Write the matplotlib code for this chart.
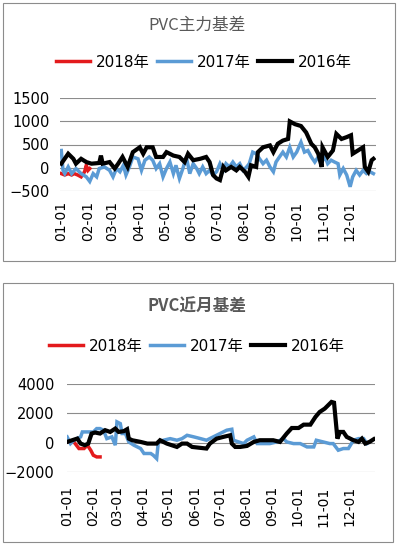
import matplotlib.pyplot as plt
from matplotlib.patches import Rectangle

plt.rcParams['font.family'] = ['DejaVu Sans', 'Noto Sans CJK SC']

month_ticks = [1, 32, 60, 91, 121, 152, 182, 213, 244, 274, 305, 335]
month_labels = ['01-01', '02-01', '03-01', '04-01', '05-01', '06-01',
                '07-01', '08-01', '09-01', '10-01', '11-01', '12-01']

# ---- PVC主力基差 (day of year, basis) ----
main_2016_day = [1, 9, 15, 18, 24, 30, 36, 45, 47, 49, 57, 63, 67, 72, 78, 84, 92, 96, 100,
                 107, 111, 119, 123, 131, 138, 144, 148, 154, 162, 169, 173, 177, 181, 185,
                 189, 192, 198, 204, 208, 214, 218, 221, 227, 229, 235, 243, 247, 252, 258,
                 264, 266, 272, 279, 285, 291, 295, 299, 303, 304, 310, 316, 320, 326, 332,
                 337, 339, 345, 351, 353, 357, 361, 363]
main_2016_val = [85, 300, 190, 85, 190, 120, 85, 100, 260, 85, 120, -20, 85, 230, 15, 335, 440,
                 300, 440, 440, 230, 230, 335, 260, 230, 120, 300, 160, 190, 230, 120, -160,
                 -235, -270, 15, -60, 15, -60, 15, -90, -200, 50, 15, 335, 440, 480, 335, 515,
                 585, 620, 1000, 940, 900, 760, 515, 440, 300, 15, 440, 230, 370, 730, 620,
                 660, 700, 300, 370, 440, 15, -90, 160, 190]

main_2017_day = [1, 3, 5, 9, 13, 18, 24, 30, 34, 38, 42, 45, 51, 57, 61, 65, 69, 73, 76, 80,
                 84, 90, 94, 98, 103, 107, 111, 115, 119, 123, 127, 131, 134, 138, 142, 146,
                 150, 154, 158, 161, 165, 169, 173, 177, 181, 185, 189, 192, 196, 200, 204,
                 208, 212, 216, 219, 223, 227, 231, 235, 239, 243, 247, 250, 254, 258, 262,
                 266, 270, 274, 279, 283, 287, 291, 295, 299, 303, 307, 310, 314, 318, 322,
                 324, 328, 332, 336, 339, 343, 347, 351, 355, 359, 363]
main_2017_val = [370, -60, -130, 15, -130, -20, -130, -200, -300, -130, -200, -20, 15, -60,
                 -200, -20, -90, 50, -160, 15, 230, 190, -60, 160, 230, 160, -20, 85, -200,
                 -20, 120, -130, 50, -235, -20, 230, -130, 85, -20, -130, 15, -130, -60, -160,
                 -90, 85, -60, 85, 15, 120, 15, 85, -60, 15, 85, 335, 300, 190, 85, 160, 15,
                 -90, 120, 230, 335, 230, 440, 230, 335, 550, 335, 370, 230, 120, 230, 120,
                 230, 85, 160, 120, 85, -160, -20, -160, -415, -200, -60, -160, -60, -130,
                 -90, -130]

main_2018_day = [1, 5, 9, 13, 16, 20, 24, 28, 30, 32, 34]
main_2018_val = [-130, -160, -130, -160, -130, -160, -200, -90, 50, -60, -20]

# ---- PVC近月基差 ----
near_2016_day = [1, 7, 13, 17, 22, 26, 30, 34, 40, 46, 52, 58, 62, 68, 72, 74, 78, 88, 96,
                 107, 111, 119, 131, 137, 143, 149, 159, 166, 170, 178, 186, 194, 196, 200,
                 206, 214, 222, 229, 237, 245, 253, 261, 267, 275, 281, 289, 295, 300, 306,
                 310, 314, 317, 321, 324, 328, 332, 340, 346, 350, 354, 359, 364]
near_2016_val = [45, 160, 275, -70, -180, -70, 620, 690, 620, 850, 730, 960, 730, 780, 915,
                 270, 160, 45, -70, -70, 160, -70, -300, -70, -70, -300, -365, -410, -70, 270,
                 390, 500, -70, -300, -300, -230, 45, 160, 160, 160, 45, 620, 1000, 1000,
                 1230, 1230, 1760, 2100, 2330, 2560, 2790, 2740, 270, 730, 730, 390, 160, 45,
                 270, -70, 45, 230]

near_2017_day = [1, 5, 9, 17, 19, 26, 32, 36, 40, 44, 48, 54, 58, 60, 64, 66, 70, 74, 80, 88,
                 92, 100, 103, 107, 109, 115, 123, 131, 137, 143, 151, 159, 166, 174, 182,
                 190, 196, 198, 204, 210, 214, 222, 226, 233, 241, 249, 257, 261, 269, 277,
                 285, 293, 296, 304, 312, 316, 322, 328, 334, 340, 346, 352, 356]
near_2017_val = [390, -70, 160, 390, 730, 730, 730, 960, 960, 850, 270, 390, -180, 1420,
                 1300, 620, 620, 45, -180, -410, -750, -750, -870, -1100, 45, 160, 270, 160,
                 270, 500, 390, 270, 160, 390, 620, 850, 915, 160, 45, -70, 160, 390, -70,
                 -70, -70, 45, 270, 45, -70, -70, -300, -300, 160, 45, -70, -70, -525, -410,
                 -410, 160, 270, 275, -70]

near_2018_day = [1, 9, 15, 21, 25, 29, 32, 36, 40]
near_2018_val = [45, 45, -410, -410, -180, -530, -870, -985, -985]

RED = '#E31A1C'
BLUE = '#5B9BD5'
GRID = '#8C8C8C'
TXT = '#595959'

fig = plt.figure(figsize=(3.97, 5.46), dpi=100)

# chart frames
fig.patches.append(Rectangle((2.5 / 397, 1 - 260.5 / 546), 392.5 / 397, 258 / 546,
                             transform=fig.transFigure, fill=False, ec='#8C8C8C', lw=0.8))
fig.patches.append(Rectangle((2.5 / 397, 1 - 541.5 / 546), 390.5 / 397, 258.5 / 546,
                             transform=fig.transFigure, fill=False, ec='#8C8C8C', lw=0.8))


def draw(ax, series, ylim, yticks, xlim, xpad, ypad):
    for d, v, c, lw in series:
        ax.plot(d, v, color=c, lw=lw, solid_joinstyle='miter')
    ax.set_xlim(*xlim)
    ax.set_ylim(*ylim)
    ax.set_yticks(yticks)
    ax.set_xticks(month_ticks)
    ax.set_xticklabels(month_labels, rotation=90)
    ax.tick_params(axis='x', length=0, pad=xpad, labelsize=10)
    ax.tick_params(axis='y', length=0, pad=ypad, labelsize=10.5)
    ax.grid(axis='y', color=GRID, lw=0.8)
    ax.set_axisbelow(True)
    for s in ax.spines.values():
        s.set_visible(False)


ax1 = fig.add_axes([60 / 397, 1 - 190.7 / 546, 316 / 397, 92.4 / 546])
draw(ax1, [(main_2018_day, main_2018_val, RED, 2.5),
           (main_2017_day, main_2017_val, BLUE, 2.5),
           (main_2016_day, main_2016_val, 'black', 3.0)],
     (-500, 1500), [-500, 0, 500, 1000, 1500], (-0.5, 366), 7.5, 7.5)

ax2 = fig.add_axes([66.7 / 397, 1 - 471.7 / 546, 308.3 / 397, 87.4 / 546])
draw(ax2, [(near_2018_day, near_2018_val, RED, 2.5),
           (near_2017_day, near_2017_val, BLUE, 2.5),
           (near_2016_day, near_2016_val, 'black', 3.0)],
     (-2000, 4000), [-2000, 0, 2000, 4000], (0.5, 365.5), 10.5, 9)

fig.text(197 / 397, 1 - 25 / 546, 'PVC主力基差', ha='center', va='center',
         fontsize=12, color=TXT, family=['Noto Sans CJK SC'])
fig.text(197 / 397, 1 - 307 / 546, 'PVC近月基差', ha='center', va='center',
         fontsize=12, color=TXT, family=['Noto Sans CJK SC'], weight='bold')

labels = ['2018年', '2017年', '2016年']
for ax, x, y in [(ax1, 204, 62.3), (ax2, 197, 346)]:
    hs = ax.get_lines()
    fig.legend(hs, labels, loc='center', bbox_to_anchor=(x / 397, 1 - y / 546),
               ncol=3, frameon=False, fontsize=11, handlelength=2.2,
               handletextpad=0.4, columnspacing=0.5, borderaxespad=0)

fig.savefig('out.png', dpi=100)
